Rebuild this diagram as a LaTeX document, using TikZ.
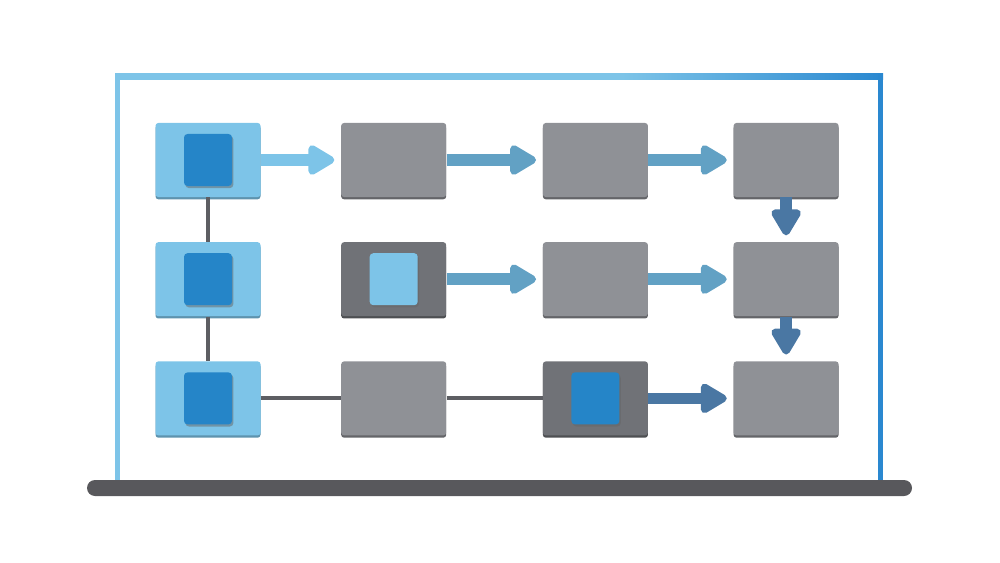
\documentclass[tikz,border=0pt]{standalone}
\usetikzlibrary{arrows.meta,positioning,shadows}
\definecolor{skyblue}{HTML}{7DC4E8}
\definecolor{frameblue}{HTML}{2A88D0}
\definecolor{deepblue}{HTML}{2585C8}
\definecolor{midflow}{HTML}{62A1C4}
\definecolor{darkflow}{HTML}{4A77A3}
\definecolor{boxgrey}{HTML}{8F9196}
\definecolor{darkgrey}{HTML}{707277}
\definecolor{linegrey}{HTML}{5D5E63}
\definecolor{basegrey}{HTML}{58585C}
\pgfdeclarehorizontalshading{framefade}{100bp}{color(0bp)=(skyblue); color(25bp)=(skyblue);
  color(58bp)=(skyblue); color(75bp)=(frameblue); color(100bp)=(frameblue)}

\begin{document}
\begin{tikzpicture}[>=Latex,
box/.style={rounded corners=1.6pt,minimum width=21mm,minimum height=14.8mm},
inbox/.style={box,fill=skyblue,general shadow={fill=skyblue!75!black,shadow yshift=-1.3pt}},
greybox/.style={box,fill=boxgrey,general shadow={fill=boxgrey!70!black,shadow yshift=-1.3pt}},
darkbox/.style={box,fill=darkgrey,general shadow={fill=darkgrey!70!black,shadow yshift=-1.3pt}},
core/.style={rounded corners=2pt,minimum width=9.6mm,minimum height=10.4mm,
general shadow={fill=black!60,shadow xshift=.8pt,shadow yshift=-1.2pt,opacity=.5}},
flow/.style={line width=6.6pt,shorten >=1.3mm,-{Triangle[width=6.6mm,length=6mm,round]}},
link/.style={line width=2.3pt,draw=linegrey}]
\useasboundingbox (0,0) rectangle (20,-11.26);
% frame and base
\shade[shading=framefade] (2.3,-1.48) rectangle (17.66,-1.585);
\draw[skyblue,line width=2.85pt] (2.35,-9.6)--(2.35,-1.48);
\draw[frameblue,line width=2.85pt] (17.61,-1.48)--(17.61,-9.6);
\fill[basegrey,rounded corners=1.6mm] (1.74,-9.6) rectangle (18.24,-9.92);
% boxes
\node[inbox] (a1) at (4.16,-3.2) {};
\node[inbox,below=8.9mm of a1] (a2) {};
\node[inbox,below=8.9mm of a2] (a3) {};
\node[greybox,right=16mm of a1] (b1) {};
\node[darkbox,right=16mm of a2] (b2) {};
\node[greybox,right=16mm of a3] (b3) {};
\node[greybox,right=19.2mm of b1] (c1) {};
\node[greybox,right=19.2mm of b2] (c2) {};
\node[darkbox,right=19.2mm of b3] (c3) {};
\node[greybox,right=17mm of c1] (d1) {};
\node[greybox,right=17mm of c2] (d2) {};
\node[greybox,right=17mm of c3] (d3) {};
\node[core,fill=deepblue] (a1in) at (a1.center) {};
\node[core,fill=deepblue] (a2in) at (a2.center) {};
\node[core,fill=deepblue] (a3in) at (a3.center) {};
\node[core,fill=skyblue] (b2in) at (b2.center) {};
\node[core,fill=deepblue] (c3in) at (c3.center) {};
% connectors
\draw[link] (a1)--(a2);\draw[link] (a2)--(a3);
\draw[link] (a3)--(b3);\draw[link] (b3)--(c3);
\draw[flow,skyblue] (a1)--(b1);
\draw[flow,midflow] (b1)--(c1);\draw[flow,midflow] (c1)--(d1);
\draw[flow,midflow] (b2)--(c2);\draw[flow,midflow] (c2)--(d2);
\draw[flow,darkflow] (d1)--(d2);\draw[flow,darkflow] (d2)--(d3);
\draw[flow,darkflow] (c3)--(d3);
\end{tikzpicture}
\end{document}
